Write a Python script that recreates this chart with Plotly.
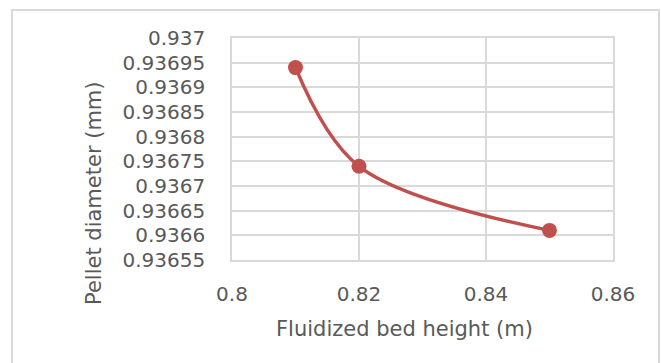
import plotly.graph_objects as go

# Fluidized bed height (m) vs. pellet diameter (mm)
bed_height = [0.81, 0.82, 0.85]
pellet_diameter = [0.93694, 0.93674, 0.93661]

x_tick_vals = [0.8, 0.82, 0.84, 0.86]
x_tick_text = ["0.8", "0.82", "0.84", "0.86"]
y_tick_vals = [0.93655, 0.9366, 0.93665, 0.9367, 0.93675,
               0.9368, 0.93685, 0.9369, 0.93695, 0.937]
y_tick_text = ["0.93655", "0.9366", "0.93665", "0.9367", "0.93675",
               "0.9368", "0.93685", "0.9369", "0.93695", "0.937"]

RED = "#C0504D"
GRID = "#D9D9D9"
TEXT = "#595959"
FONT = "DejaVu Sans"

fig = go.Figure()
fig.add_trace(go.Scatter(
    x=bed_height,
    y=pellet_diameter,
    mode="lines+markers",
    line=dict(color=RED, width=3.5, shape="spline", smoothing=1),
    marker=dict(color=RED, size=15),
    showlegend=False,
    hoverinfo="x+y",
))

axis_common = dict(
    showgrid=True,
    gridcolor=GRID,
    gridwidth=1.5,
    zeroline=False,
    showline=True,
    linecolor=GRID,
    linewidth=1.5,
    mirror=True,
    ticks="",
    tickfont=dict(family=FONT, size=20, color=TEXT),
)

fig.update_xaxes(
    range=[0.8, 0.86],
    tickmode="array",
    tickvals=x_tick_vals,
    ticktext=x_tick_text,
    ticklabelstandoff=15,
    **axis_common,
)
fig.update_yaxes(
    range=[0.93655, 0.937],
    tickmode="array",
    tickvals=y_tick_vals,
    ticktext=y_tick_text,
    ticklabelstandoff=21,
    **axis_common,
)

L, R, T, B = 232, 48, 38, 103
W, H = 661, 363
pw, ph = W - L - R, H - T - B


def px_to_paper_x(px):
    return (px - L) / pw


def px_to_paper_y(py):
    return (H - B - py) / ph


fig.update_layout(
    width=W,
    height=H,
    margin=dict(l=L, r=R, t=T, b=B, pad=0),
    paper_bgcolor="white",
    plot_bgcolor="white",
    font=dict(family=FONT, color=TEXT),
    annotations=[
        dict(
            text="Fluidized bed height (m)",
            xref="paper", yref="paper",
            x=px_to_paper_x(404), y=px_to_paper_y(329),
            xanchor="center", yanchor="middle",
            showarrow=False,
            font=dict(family=FONT, size=21, color=TEXT),
        ),
        dict(
            text="Pellet diameter (mm)",
            xref="paper", yref="paper",
            x=px_to_paper_x(94), y=px_to_paper_y(193),
            xanchor="center", yanchor="middle",
            textangle=-90,
            showarrow=False,
            font=dict(family=FONT, size=21, color=TEXT),
        ),
    ],
    shapes=[
        dict(
            type="rect",
            xref="paper", yref="paper",
            x0=px_to_paper_x(12), x1=px_to_paper_x(659),
            y0=px_to_paper_y(375), y1=px_to_paper_y(10),
            line=dict(color=GRID, width=2),
            fillcolor="rgba(0,0,0,0)",
            layer="below",
        )
    ],
)

fig.write_html("out.html")
